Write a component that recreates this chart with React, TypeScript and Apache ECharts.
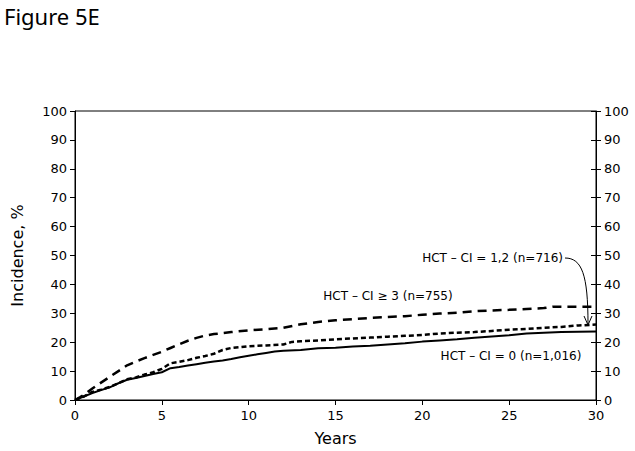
import React, { useEffect, useRef } from "react";
import * as echarts from "echarts";

const xTicks = [0, 5, 10, 15, 20, 25, 30];
const yTicks = [0, 10, 20, 30, 40, 50, 60, 70, 80, 90, 100];

const ge3Years = [0, 0.3, 0.6, 1, 1.5, 2, 2.5, 3, 3.5, 4, 4.5, 5, 5.5, 6, 6.5, 7, 7.5, 8, 9, 10, 11, 12, 13, 14, 15, 16, 17, 18, 19, 20, 21, 22, 23, 24, 25, 26, 27, 27.5, 30];
const ge3Values = [0, 1, 2.2, 4, 6, 8, 10, 12, 13.3, 14.5, 15.6, 16.7, 18, 19.3, 20.5, 21.5, 22.3, 22.8, 23.5, 24.1, 24.5, 25, 26.2, 27, 27.6, 28, 28.4, 28.7, 29, 29.5, 29.9, 30.2, 30.7, 31, 31.2, 31.5, 31.8, 32.3, 32.3];

const ci12Years = [0, 0.5, 1, 1.5, 2, 2.5, 3, 3.5, 4, 4.5, 5, 5.5, 6, 6.5, 7, 7.5, 8, 8.5, 9, 10, 11, 12, 12.5, 13, 14, 15, 16, 17, 18, 19, 20, 21, 22, 23, 24, 25, 26, 27, 28, 29, 30];
const ci12Values = [0, 1.2, 2.8, 3.6, 4.5, 5.8, 7.2, 7.8, 8.8, 9.6, 10.8, 12.7, 13.2, 13.8, 14.6, 15.2, 16, 17.3, 18, 18.6, 18.9, 19.2, 20.1, 20.3, 20.6, 21, 21.3, 21.6, 21.9, 22.2, 22.5, 23, 23.3, 23.5, 23.9, 24.3, 24.6, 25, 25.3, 25.8, 26.1];

const ci0Years = [0, 0.5, 1, 1.5, 2, 2.5, 3, 3.5, 4, 4.5, 5, 5.5, 6, 6.5, 7, 7.5, 8, 8.5, 9, 9.5, 10, 10.5, 11, 11.5, 12, 13, 14, 15, 16, 17, 18, 19, 20, 21, 22, 23, 24, 25, 26, 27, 28, 29, 30];
const ci0Values = [0, 1.2, 2.4, 3.4, 4.4, 5.8, 7, 7.6, 8.3, 9, 9.6, 11, 11.4, 11.9, 12.4, 12.9, 13.3, 13.7, 14.2, 14.8, 15.3, 15.8, 16.3, 16.8, 17, 17.3, 17.9, 18.1, 18.5, 18.8, 19.2, 19.6, 20.2, 20.6, 21, 21.5, 22, 22.4, 23, 23.3, 23.5, 23.6, 23.7];

const labelGe3 = "HCT – CI ≥ 3 (n=755)";
const label12 = "HCT – CI = 1,2 (n=716)";
const label0 = "HCT – CI = 0 (n=1,016)";

const pairs = (xs: number[], ys: number[]) => xs.map((x, i) => [x, ys[i]]);

const FONT = "DejaVu Sans";

export default function App() {
  const ref = useRef<HTMLDivElement>(null);
  useEffect(() => {
    document.body.style.margin = "0";
    if (!ref.current) return;
    const chart = echarts.init(ref.current, null, { renderer: "svg" });
    const axisText = { color: "#000", fontFamily: FONT, fontSize: 13 };
    chart.setOption({
      animation: false,
      backgroundColor: "#fff",
      grid: {
        left: 75,
        right: 39,
        top: 111,
        bottom: 49,
        show: true,
        borderColor: "#000",
        borderWidth: 1,
      },
      xAxis: {
        type: "value",
        min: 0,
        max: 30,
        interval: 5,
        name: "Years",
        nameLocation: "middle",
        nameGap: 30,
        nameTextStyle: { color: "#000", fontFamily: FONT, fontSize: 16 },
        axisLine: { lineStyle: { color: "#000", width: 1 } },
        axisTick: { show: true, length: 5, lineStyle: { color: "#000" } },
        axisLabel: { ...axisText, margin: 9, formatter: (v: number) => (xTicks.includes(v) ? String(v) : "") },
        splitLine: { show: false },
      },
      yAxis: [
        {
          type: "value",
          min: 0,
          max: 100,
          interval: 10,
          position: "left",
          name: "Incidence, %",
          nameLocation: "middle",
          nameGap: 50,
          nameTextStyle: { color: "#000", fontFamily: FONT, fontSize: 16 },
          axisLine: { show: true, lineStyle: { color: "#000", width: 1 } },
          axisTick: { show: true, length: 5, lineStyle: { color: "#000" } },
          axisLabel: { ...axisText, margin: 8, formatter: (v: number) => (yTicks.includes(v) ? String(v) : "") },
          splitLine: { show: false },
        },
        {
          type: "value",
          min: 0,
          max: 100,
          interval: 10,
          position: "right",
          axisLine: { show: true, lineStyle: { color: "#000", width: 1 } },
          axisTick: { show: true, length: 5, lineStyle: { color: "#000" } },
          axisLabel: { ...axisText, margin: 8, formatter: (v: number) => (yTicks.includes(v) ? String(v) : "") },
          splitLine: { show: false },
        },
        {
          type: "value",
          min: 0,
          max: 100,
          interval: 10,
          position: "right",
          axisLine: { show: false },
          axisTick: { show: true, inside: true, length: 5, lineStyle: { color: "#000" } },
          axisLabel: { show: false },
          splitLine: { show: false },
        },
      ],
      series: [
        {
          type: "line",
          name: labelGe3,
          data: pairs(ge3Years, ge3Values),
          showSymbol: false,
          lineStyle: { color: "#000", width: 2.5, type: [9, 6] },
        },
        {
          type: "line",
          name: label12,
          data: pairs(ci12Years, ci12Values),
          showSymbol: false,
          lineStyle: { color: "#000", width: 2.5, type: [5, 3] },
        },
        {
          type: "line",
          name: label0,
          data: pairs(ci0Years, ci0Values),
          showSymbol: false,
          lineStyle: { color: "#000", width: 2, type: "solid" },
        },
      ],
      graphic: [
        {
          type: "text",
          left: 4,
          top: 5,
          style: { text: "Figure 5E", fill: "#000", font: "22px 'Noto Sans'" },
        },
        {
          type: "text",
          x: 388,
          y: 296,
          style: { text: labelGe3, fill: "#000", font: `12px '${FONT}'`, align: "center", verticalAlign: "middle" },
        },
        {
          type: "text",
          x: 563,
          y: 258,
          style: { text: label12, fill: "#000", font: `12px '${FONT}'`, align: "right", verticalAlign: "middle" },
        },
        {
          type: "text",
          x: 511,
          y: 356,
          style: { text: label0, fill: "#000", font: `12px '${FONT}'`, align: "center", verticalAlign: "middle" },
        },
        {
          type: "bezierCurve",
          shape: { x1: 565, y1: 258, cpx1: 582, cpy1: 258, cpx2: 588, cpy2: 275, x2: 588, y2: 324 },
          style: { stroke: "#000", lineWidth: 1, fill: "none" },
        },
        {
          type: "polyline",
          shape: { points: [[584, 316], [588, 325], [592, 316]] },
          style: { stroke: "#000", lineWidth: 1, fill: "none" },
        },
      ],
    });
    return () => chart.dispose();
  }, []);
  return <div ref={ref} style={{ width: 635, height: 451 }} />;
}
